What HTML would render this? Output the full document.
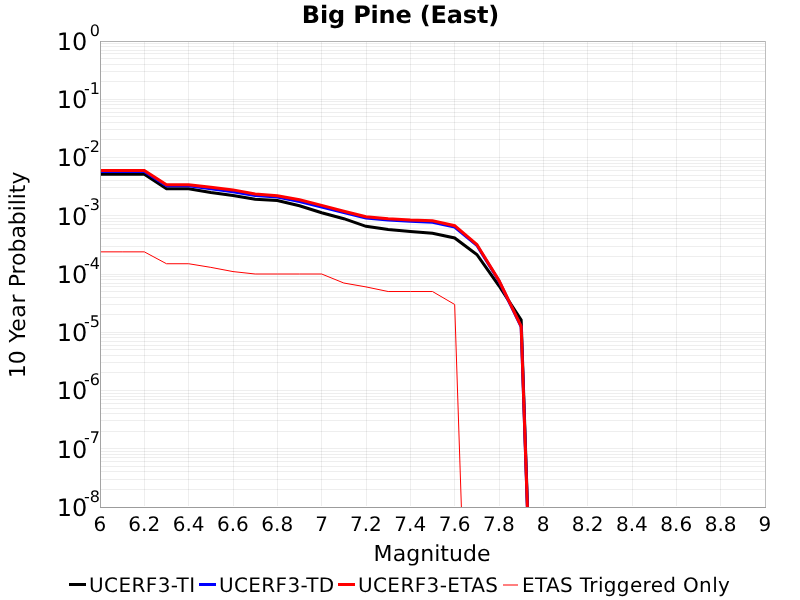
<!DOCTYPE html>
<html lang="en"><head><meta charset="utf-8"><title>Big Pine (East)</title>
<style>html,body{margin:0;padding:0;background:#fff;}body{width:800px;height:600px;overflow:hidden;}svg{display:block;}text{font-family:"DejaVu Sans","Liberation Sans",sans-serif;fill:#000;text-rendering:geometricPrecision;}</style></head><body>
<svg width="800" height="600" viewBox="0 0 800 600">
<rect x="0" y="0" width="800" height="600" fill="#fff"/>
<g fill="#000" fill-opacity="0.068" shape-rendering="crispEdges">
<rect x="101" y="99" width="664" height="1"/>
<rect x="101" y="81" width="664" height="1"/>
<rect x="101" y="71" width="664" height="1"/>
<rect x="101" y="64" width="664" height="1"/>
<rect x="101" y="58" width="664" height="1"/>
<rect x="101" y="53" width="664" height="1"/>
<rect x="101" y="50" width="664" height="1"/>
<rect x="101" y="46" width="664" height="1"/>
<rect x="101" y="43" width="664" height="1"/>
<rect x="101" y="157" width="664" height="1"/>
<rect x="101" y="139" width="664" height="1"/>
<rect x="101" y="129" width="664" height="1"/>
<rect x="101" y="122" width="664" height="1"/>
<rect x="101" y="116" width="664" height="1"/>
<rect x="101" y="112" width="664" height="1"/>
<rect x="101" y="108" width="664" height="1"/>
<rect x="101" y="104" width="664" height="1"/>
<rect x="101" y="101" width="664" height="1"/>
<rect x="101" y="215" width="664" height="1"/>
<rect x="101" y="198" width="664" height="1"/>
<rect x="101" y="187" width="664" height="1"/>
<rect x="101" y="180" width="664" height="1"/>
<rect x="101" y="175" width="664" height="1"/>
<rect x="101" y="170" width="664" height="1"/>
<rect x="101" y="166" width="664" height="1"/>
<rect x="101" y="163" width="664" height="1"/>
<rect x="101" y="160" width="664" height="1"/>
<rect x="101" y="274" width="664" height="1"/>
<rect x="101" y="256" width="664" height="1"/>
<rect x="101" y="246" width="664" height="1"/>
<rect x="101" y="238" width="664" height="1"/>
<rect x="101" y="233" width="664" height="1"/>
<rect x="101" y="228" width="664" height="1"/>
<rect x="101" y="224" width="664" height="1"/>
<rect x="101" y="221" width="664" height="1"/>
<rect x="101" y="218" width="664" height="1"/>
<rect x="101" y="332" width="664" height="1"/>
<rect x="101" y="314" width="664" height="1"/>
<rect x="101" y="304" width="664" height="1"/>
<rect x="101" y="297" width="664" height="1"/>
<rect x="101" y="291" width="664" height="1"/>
<rect x="101" y="286" width="664" height="1"/>
<rect x="101" y="283" width="664" height="1"/>
<rect x="101" y="279" width="664" height="1"/>
<rect x="101" y="276" width="664" height="1"/>
<rect x="101" y="390" width="664" height="1"/>
<rect x="101" y="372" width="664" height="1"/>
<rect x="101" y="362" width="664" height="1"/>
<rect x="101" y="355" width="664" height="1"/>
<rect x="101" y="349" width="664" height="1"/>
<rect x="101" y="345" width="664" height="1"/>
<rect x="101" y="341" width="664" height="1"/>
<rect x="101" y="337" width="664" height="1"/>
<rect x="101" y="334" width="664" height="1"/>
<rect x="101" y="448" width="664" height="1"/>
<rect x="101" y="431" width="664" height="1"/>
<rect x="101" y="420" width="664" height="1"/>
<rect x="101" y="413" width="664" height="1"/>
<rect x="101" y="408" width="664" height="1"/>
<rect x="101" y="403" width="664" height="1"/>
<rect x="101" y="399" width="664" height="1"/>
<rect x="101" y="396" width="664" height="1"/>
<rect x="101" y="393" width="664" height="1"/>
<rect x="101" y="489" width="664" height="1"/>
<rect x="101" y="479" width="664" height="1"/>
<rect x="101" y="471" width="664" height="1"/>
<rect x="101" y="466" width="664" height="1"/>
<rect x="101" y="461" width="664" height="1"/>
<rect x="101" y="457" width="664" height="1"/>
<rect x="101" y="454" width="664" height="1"/>
<rect x="101" y="451" width="664" height="1"/>
<rect x="144" y="42" width="1" height="464"/>
<rect x="188" y="42" width="1" height="464"/>
<rect x="233" y="42" width="1" height="464"/>
<rect x="277" y="42" width="1" height="464"/>
<rect x="321" y="42" width="1" height="464"/>
<rect x="366" y="42" width="1" height="464"/>
<rect x="410" y="42" width="1" height="464"/>
<rect x="454" y="42" width="1" height="464"/>
<rect x="499" y="42" width="1" height="464"/>
<rect x="543" y="42" width="1" height="464"/>
<rect x="587" y="42" width="1" height="464"/>
<rect x="632" y="42" width="1" height="464"/>
<rect x="676" y="42" width="1" height="464"/>
<rect x="720" y="42" width="1" height="464"/>
</g>
<defs><clipPath id="c"><rect x="100.4" y="42" width="664.6" height="465"/></clipPath></defs>
<g clip-path="url(#c)" fill="none" stroke-linejoin="miter" stroke-linecap="square">
<polyline points="100.00,174.30 122.17,174.30 144.33,174.30 166.50,188.80 188.67,188.70 210.83,192.40 233.00,195.50 255.17,199.20 277.33,200.60 299.50,205.70 321.67,212.70 343.83,218.70 366.00,226.30 388.17,229.60 410.33,231.60 432.50,233.30 454.67,238.00 476.83,254.50 499.00,285.80 521.17,320.00 543.33,973.00" stroke="#000" stroke-width="3"/>
<polyline points="100.00,171.60 122.17,171.60 144.33,171.60 166.50,185.70 188.67,185.70 210.83,188.80 233.00,191.80 255.17,195.60 277.33,197.10 299.50,201.50 321.67,207.00 343.83,212.50 366.00,218.10 388.17,220.00 410.33,221.30 432.50,222.20 454.67,227.00 476.83,245.30 499.00,281.00 521.17,326.80 543.33,973.00" stroke="#00f" stroke-width="3"/>
<polyline points="100.00,170.50 122.17,170.50 144.33,170.50 166.50,184.70 188.67,184.70 210.83,187.20 233.00,189.90 255.17,194.00 277.33,195.70 299.50,199.80 321.67,205.40 343.83,211.30 366.00,216.70 388.17,218.70 410.33,220.10 432.50,220.80 454.67,225.70 476.83,244.50 499.00,280.50 521.17,326.30 543.33,973.00" stroke="#f00" stroke-width="3"/>
<polyline points="100.00,251.85 122.17,251.85 144.33,251.85 166.50,263.74 188.67,263.74 210.83,267.36 233.00,271.59 255.17,274.00 277.33,274.00 299.50,274.00 321.67,274.00 343.83,283.02 366.00,286.92 388.17,291.53 410.33,291.53 432.50,291.53 454.67,304.46 476.83,973.00" stroke="#f00" stroke-width="1"/>
</g>
<g shape-rendering="crispEdges">
<rect x="100" y="41" width="666" height="1" fill="#b2b2b2"/><rect x="765" y="41" width="1" height="467" fill="#bebebe"/>
<rect x="100" y="41" width="1" height="467" fill="#a4a4a4"/><rect x="100" y="507" width="666" height="1" fill="#9c9c9c"/>
</g>
<text x="301.80" y="22.8" font-size="24" letter-spacing="-0.180" font-weight="bold">Big Pine (East)</text>
<g font-size="20" text-anchor="middle">
<text x="99.90" y="530.8">6</text>
<text x="144.23" y="530.8">6.2</text>
<text x="188.57" y="530.8">6.4</text>
<text x="232.90" y="530.8">6.6</text>
<text x="277.23" y="530.8">6.8</text>
<text x="321.57" y="530.8">7</text>
<text x="365.90" y="530.8">7.2</text>
<text x="410.23" y="530.8">7.4</text>
<text x="454.57" y="530.8">7.6</text>
<text x="498.90" y="530.8">7.8</text>
<text x="543.23" y="530.8">8</text>
<text x="587.57" y="530.8">8.2</text>
<text x="631.90" y="530.8">8.4</text>
<text x="676.23" y="530.8">8.6</text>
<text x="720.57" y="530.8">8.8</text>
<text x="764.90" y="530.8">9</text>
</g>
<text x="56.8" y="49.80" font-size="24">10</text><text x="100" y="35.60" font-size="16" text-anchor="end">0</text>
<text x="56.8" y="108.05" font-size="24">10</text><text x="100" y="93.85" font-size="16" text-anchor="end">-1</text>
<text x="56.8" y="166.30" font-size="24">10</text><text x="100" y="152.10" font-size="16" text-anchor="end">-2</text>
<text x="56.8" y="224.55" font-size="24">10</text><text x="100" y="210.35" font-size="16" text-anchor="end">-3</text>
<text x="56.8" y="282.80" font-size="24">10</text><text x="100" y="268.60" font-size="16" text-anchor="end">-4</text>
<text x="56.8" y="341.05" font-size="24">10</text><text x="100" y="326.85" font-size="16" text-anchor="end">-5</text>
<text x="56.8" y="399.30" font-size="24">10</text><text x="100" y="385.10" font-size="16" text-anchor="end">-6</text>
<text x="56.8" y="457.55" font-size="24">10</text><text x="100" y="443.35" font-size="16" text-anchor="end">-7</text>
<text x="56.8" y="515.80" font-size="24">10</text><text x="100" y="501.60" font-size="16" text-anchor="end">-8</text>
<text x="373.60" y="560.9" font-size="22" letter-spacing="0.050" >Magnitude</text>
<text transform="translate(24.8,378.20) rotate(-90)" font-size="22" letter-spacing="0.050">10</text>
<text transform="translate(24.8,342.80) rotate(-90)" font-size="22" letter-spacing="0.550">Year</text>
<text transform="translate(24.8,287.20) rotate(-90)" font-size="22" letter-spacing="-0.070">Probability</text>
<rect x="69" y="583" width="17" height="3" fill="#000"/>
<text x="89.10" y="591.5" font-size="20" letter-spacing="0.390" >UCERF3-TI</text>
<rect x="199" y="583" width="17" height="3" fill="#00f"/>
<text x="219.00" y="591.5" font-size="20" letter-spacing="0.350" >UCERF3-TD</text>
<rect x="338" y="583" width="17" height="3" fill="#f00"/>
<text x="358.00" y="591.5" font-size="20" letter-spacing="0.380" >UCERF3-ETAS</text>
<rect x="503" y="584.5" width="15" height="1" fill="#f00"/>
<text x="522.00" y="591.5" font-size="20" letter-spacing="0.340" >ETAS Triggered Only</text>
</svg></body></html>
